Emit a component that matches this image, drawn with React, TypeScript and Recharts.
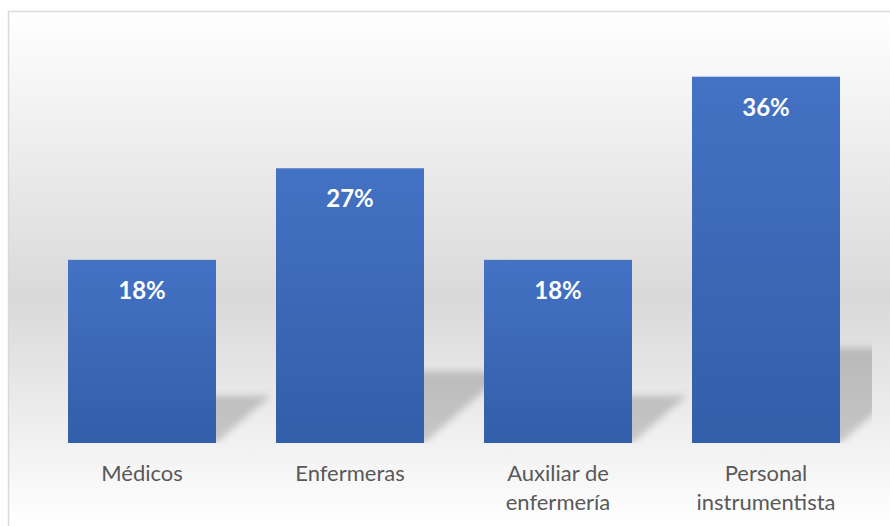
import { BarChart, Bar, XAxis, YAxis, LabelList } from "recharts";

const categories = ["Médicos", "Enfermeras", "Auxiliar de\nenfermería", "Personal\ninstrumentista"];
const shares = [18, 27, 18, 36];

const data = categories.map((name, i) => ({ name, value: shares[i] }));

const W = 890;
const H = 526;
const FONT = "Lato, 'Open Sans', sans-serif";

function ShadowBar(props: any) {
  const { x, y, width, height } = props;
  const base = y + height;
  const rise = height * 0.26;
  const shift = height * 0.3;
  const pts = [
    [x, base],
    [x + width, base],
    [x + width + shift, base - rise],
    [x + shift, base - rise],
  ]
    .map((p) => p.join(","))
    .join(" ");
  return (
    <g>
      <polygon points={pts} fill="#000" fillOpacity={0.18} filter="url(#blurShadow)" clipPath="url(#plotClip)" />
      <rect x={x} y={y} width={width} height={height} fill="url(#barFill)" />
    </g>
  );
}

function PctLabel(props: any) {
  const { x, y, width, value } = props;
  return (
    <text
      x={x + width / 2}
      y={y + 39}
      textAnchor="middle"
      fill="#fff"
      fontFamily={FONT}
      fontWeight={700}
      fontSize={24}
    >
      {value}%
    </text>
  );
}

function CatTick(props: any) {
  const { x, payload } = props;
  const lines = String(payload.value).split("\n");
  return (
    <g>
      {lines.map((l, i) => (
        <text
          key={i}
          x={x}
          y={481 + i * 29}
          textAnchor="middle"
          fill="#595959"
          fontFamily={FONT}
          fontSize={22}
        >
          {l}
        </text>
      ))}
    </g>
  );
}

export default function App() {
  return (
    <div style={{ position: "absolute", left: 0, top: 0, width: W, height: H, overflow: "hidden", background: "#fff" }}>
      <svg width={W} height={H} style={{ position: "absolute", left: 0, top: 0 }}>
        <defs>
          <linearGradient id="bgFill" gradientUnits="userSpaceOnUse" x1="0" y1="11" x2="0" y2="526">
            <stop offset="0%" stopColor="#ffffff" />
            <stop offset="56%" stopColor="#d9d9d9" />
            <stop offset="100%" stopColor="#ffffff" />
          </linearGradient>
        </defs>
        <rect x={8.5} y={11.5} width={1000} height={700} fill="url(#bgFill)" stroke="#d9d9d9" strokeWidth={1.5} />
      </svg>
      <div style={{ position: "absolute", left: 0, top: 0 }}>
        <BarChart width={W} height={H} data={data} margin={{ top: 36, right: 20, left: 38, bottom: 0 }}>
          <defs>
            <linearGradient id="barFill" x1="0" y1="0" x2="0" y2="1">
              <stop offset="0%" stopColor="#4472c4" />
              <stop offset="100%" stopColor="#335ea8" />
            </linearGradient>
            <filter id="blurShadow" x="-20%" y="-20%" width="140%" height="140%">
              <feGaussianBlur stdDeviation="3.5" />
            </filter>
            <clipPath id="plotClip">
              <rect x={38} y={0} width={834} height={443} />
            </clipPath>
          </defs>
          <XAxis dataKey="name" axisLine={false} tickLine={false} height={83} interval={0} tick={<CatTick />} />
          <YAxis hide domain={[0, 40]} />
          <Bar dataKey="value" barSize={148} shape={<ShadowBar />} isAnimationActive={false}>
            <LabelList dataKey="value" content={<PctLabel />} />
          </Bar>
        </BarChart>
      </div>
    </div>
  );
}
